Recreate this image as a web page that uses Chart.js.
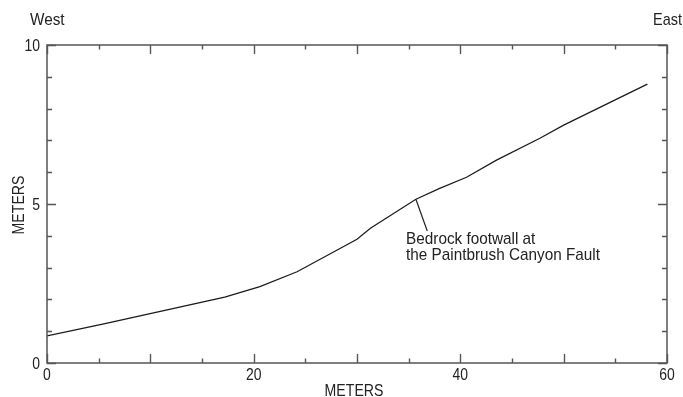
<!DOCTYPE html>
<html>
<head>
<meta charset="utf-8">
<script src="https://cdn.jsdelivr.net/npm/chart.js@4"></script>
<style>
  html, body { margin: 0; padding: 0; background: #fff; }
  #wrap { position: relative; width: 683px; height: 397px; }
</style>
</head>
<body>
<div id="wrap"><canvas id="c"></canvas></div>
<script>
// ---- data ----
const distanceM = [0, 5.5, 17.2, 20.6, 24.2, 30.0, 31.3, 35.7, 38.0, 40.6, 43.5, 47.7, 50.0, 58.1];
const heightM   = [0.85, 1.23, 2.07, 2.40, 2.87, 3.89, 4.24, 5.15, 5.49, 5.84, 6.38, 7.07, 7.48, 8.77];
const xTickLabels = [0, 20, 40, 60];
const yTickLabels = [0, 5, 10];
const xAxisTitle = 'METERS';
const yAxisTitle = 'METERS';
const leftSideLabel = 'West';
const rightSideLabel = 'East';
const annotationLines = ['Bedrock footwall at', 'the Paintbrush Canyon Fault'];
const annotationPoint = [35.7, 5.15];   // on the profile
const annotationLeaderEnd = [36.8, 4.15];
const annotationTextAt = [34.75, 3.74];  // start of first text line

const FONT = "'Liberation Sans', Arial, sans-serif";
const TXT = '#222';
const AX = '#555';

const points = distanceM.map((x, i) => ({ x: x, y: heightM[i] }));

function condensedText(ctx, str, x, y, align, k, size) {
  ctx.save();
  ctx.font = size + 'px ' + FONT;
  ctx.textAlign = align;
  ctx.textBaseline = 'alphabetic';
  ctx.translate(x, y);
  ctx.scale(k, 1);
  ctx.fillText(str, 0, 0);
  ctx.restore();
}

const framePlugin = {
  id: 'frameAndText',
  afterDraw(chart) {
    const ctx = chart.ctx;
    const a = chart.chartArea;
    const xs = chart.scales.x, ys = chart.scales.y;
    ctx.save();
    // frame
    ctx.strokeStyle = AX;
    ctx.lineWidth = 1.5;
    ctx.strokeRect(a.left, a.top, a.right - a.left, a.bottom - a.top);
    // inside ticks
    ctx.lineWidth = 1.4;
    ctx.beginPath();
    for (let v = xs.min; v <= xs.max; v += 5) {
      const px = Math.round(xs.getPixelForValue(v)) + 0.5;
      const len = (v % 10 === 0) ? 9 : 4.5;
      ctx.moveTo(px, a.bottom); ctx.lineTo(px, a.bottom - len);
      ctx.moveTo(px, a.top); ctx.lineTo(px, a.top + len);
    }
    for (let v = ys.min; v <= ys.max; v += 1) {
      const py = Math.round(ys.getPixelForValue(v)) + 0.5;
      const len = (v % 5 === 0) ? 9 : 5;
      ctx.moveTo(a.left, py); ctx.lineTo(a.left + len, py);
      ctx.moveTo(a.right, py); ctx.lineTo(a.right - len, py);
    }
    ctx.stroke();

    ctx.fillStyle = TXT;
    // tick labels
    xTickLabels.forEach(v => condensedText(ctx, String(v), xs.getPixelForValue(v), a.bottom + 17, 'center', 0.82, 17));
    yTickLabels.forEach(v => condensedText(ctx, String(v), a.left - 7, ys.getPixelForValue(v) + 6, 'right', 0.82, 17));

    // side labels
    condensedText(ctx, leftSideLabel, 30, 25, 'left', 0.9, 17);
    condensedText(ctx, rightSideLabel, 682, 25, 'right', 0.85, 17);

    // axis titles
    condensedText(ctx, xAxisTitle, (a.left + a.right) / 2 - 3, 395.5, 'center', 0.83, 17);
    ctx.save();
    ctx.translate(24, (a.top + a.bottom) / 2 + 1);
    ctx.rotate(-Math.PI / 2);
    condensedText(ctx, yAxisTitle, 0, 0, 'center', 0.83, 17);
    ctx.restore();

    // annotation
    ctx.strokeStyle = '#222';
    ctx.lineWidth = 1.2;
    ctx.beginPath();
    ctx.moveTo(xs.getPixelForValue(annotationPoint[0]), ys.getPixelForValue(annotationPoint[1]));
    ctx.lineTo(xs.getPixelForValue(annotationLeaderEnd[0]), ys.getPixelForValue(annotationLeaderEnd[1]));
    ctx.stroke();
    const tx = xs.getPixelForValue(annotationTextAt[0]);
    const ty = ys.getPixelForValue(annotationTextAt[1]);
    annotationLines.forEach((s, i) => condensedText(ctx, s, tx, ty + i * 16, 'left', 0.9, 17));
    ctx.restore();
  }
};

new Chart(document.getElementById('c'), {
  type: 'scatter',
  data: {
    datasets: [{
      data: points,
      showLine: true,
      borderColor: '#1a1a1a',
      borderWidth: 1.2,
      pointRadius: 0,
      tension: 0,
      fill: false
    }]
  },
  options: {
    responsive: true,
    maintainAspectRatio: false,
    animation: false,
    events: [],
    layout: { padding: { top: 45, right: 16, left: 0, bottom: 0 } },
    plugins: { legend: { display: false }, tooltip: { enabled: false } },
    scales: {
      x: {
        type: 'linear', min: 0, max: 60,
        grid: { display: false, drawTicks: false },
        border: { display: false },
        afterFit(s) { s.height = 34; },
        afterBuildTicks(s) { s.ticks = xTickLabels.map(v => ({ value: v })); },
        ticks: { display: false }
      },
      y: {
        type: 'linear', min: 0, max: 10,
        grid: { display: false, drawTicks: false },
        border: { display: false },
        afterFit(s) { s.width = 47; },
        afterBuildTicks(s) { s.ticks = yTickLabels.map(v => ({ value: v })); },
        ticks: { display: false }
      }
    }
  },
  plugins: [framePlugin]
});
</script>
</body>
</html>
